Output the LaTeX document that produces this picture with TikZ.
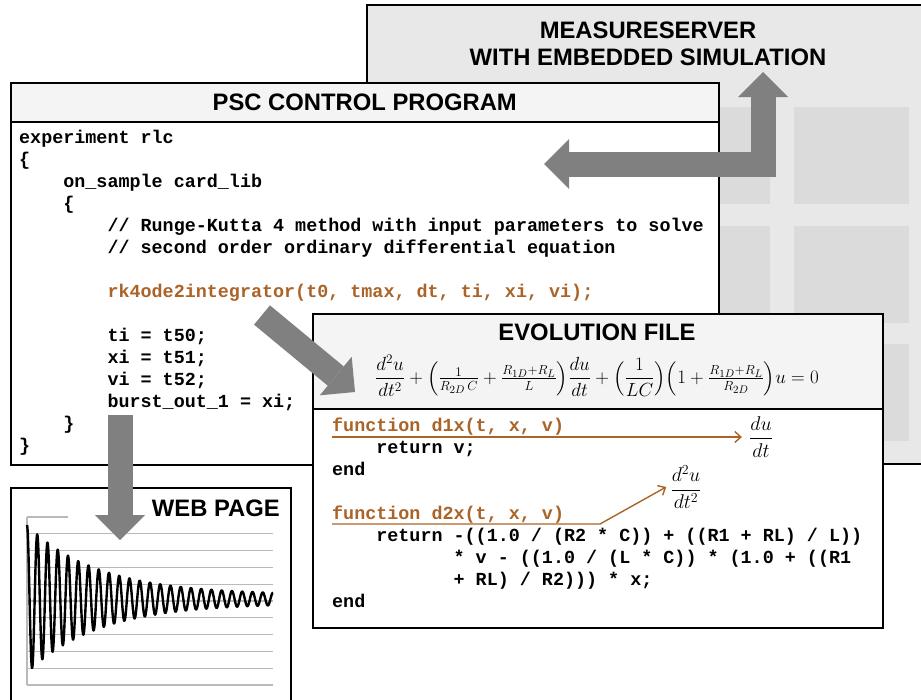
\documentclass[tikz,border=0pt]{standalone}
\usepackage{amsmath}
\usepackage{graphicx}
\usepackage{fontspec}
\newfontfamily\titlefont{Liberation Sans}
\newfontfamily\codefont{Liberation Mono}
\usetikzlibrary{arrows.meta}
\definecolor{codebrown}{RGB}{170,100,40}
\definecolor{arrowgray}{RGB}{128,128,128}
\definecolor{msgray}{RGB}{232,232,232}
\definecolor{tilegray}{RGB}{219,219,219}
\definecolor{headgray}{RGB}{244,244,244}
\definecolor{gridgray}{RGB}{185,185,185}

\begin{document}
\begin{tikzpicture}[x=1pt, y=-1pt,
      panel/.style={draw, line width=1.5pt, fill=white, anchor=north west, inner sep=0pt},
      head/.style={panel, fill=headgray},
      title/.style={font={\titlefont\bfseries\fontsize{23.8}{27}\selectfont}, align=center, inner sep=0pt},
      code/.style={anchor=north west, inner sep=0pt, align=left,
                   font={\codefont\bfseries\fontsize{18.4}{22}\selectfont}},
      frac/.style={font=\fontsize{17.28}{22}\selectfont, inner sep=1pt},
      blockarr/.style={draw=arrowgray, line width=25pt,
                       -{Triangle[length=25pt, width=50pt, line width'=0pt]}},
      fnarr/.style={draw=codebrown, line width=1.4pt, -{Straight Barb[length=6pt, width=11pt]}}
    ]
      \useasboundingbox (0,0) rectangle (921,699);
      \clip (0,0) rectangle (921,699);

      \node[panel, fill=msgray, minimum width=570pt, minimum height=459pt] (ms) at (366,4) {};
      \foreach \cx in {655,794}
        \foreach \cy in {107,226,344}
          \fill[tilegray] (\cx,\cy) rectangle ++(115,97);
      \node[title] (ms-title) at (648,44) {MEASURESERVER\\WITH EMBEDDED SIMULATION};

      \node[panel, minimum width=708pt, minimum height=382pt] (psc) at (10,82) {};
      \node[head, minimum width=708pt, minimum height=39pt] (psc-head) at (10,82) {};
      \node[title] at (psc-head.center) {PSC CONTROL PROGRAM};
      \node[code] (psc-code) at (19,130) {experiment rlc\\
\{\\
~~~~on\_sample card\_lib\\
~~~~\{\\
~~~~~~~~// Runge-Kutta 4 method with input parameters to solve\\
~~~~~~~~// second order ordinary differential equation\\[22pt]
~~~~~~~~\textcolor{codebrown}{rk4ode2integrator(t0, tmax, dt, ti, xi, vi);}\\[22pt]
~~~~~~~~ti = t50;\\
~~~~~~~~xi = t51;\\
~~~~~~~~vi = t52;\\
~~~~~~~~burst\_out\_1 = xi;\\
~~~~\}\\
\}};

      \coordinate (ms-in) at (763,72);
      \coordinate (psc-in) at (544,164);
      \draw[blockarr, {Triangle[length=25pt, width=50pt, line width'=0pt]}-{Triangle[length=25pt, width=50pt, line width'=0pt]}]
        (psc-in) -| (ms-in);

      \node[panel, minimum width=280pt, minimum height=215pt] (web) at (10,487) {};
      \draw[gridgray, line width=1.3pt] (27,517) -- (68,517);
      \foreach \k in {1,...,10}
        \draw[gridgray, line width=1.3pt] (27,517+16.8*\k) -- (273,517+16.8*\k);
      \draw[gridgray, line width=1.3pt] (27,517) -- (27,685);
      \draw[line width=2.4pt, line join=round] plot[domain=0:246, samples=700, smooth]
        ({27+\x}, {599-(70*exp(-0.014*\x)+4)*cos(35.122*\x)});
      \node[title, anchor=east] (web-title) at (280,508) {WEB PAGE};

      \coordinate (psc-out) at (120,415);
      \coordinate (web-in) at (120,540);
      \draw[blockarr] (psc-out) -- (web-in);

      \node[panel, minimum width=570pt, minimum height=314pt] (evo) at (312,313) {};
      \node[head, minimum width=570pt, minimum height=95pt] (evo-head) at (312,313) {};
      \node[title] (evo-title) at (597,332) {EVOLUTION FILE};
      \node[font=\fontsize{17.28}{22}\selectfont, inner sep=0pt] (evo-eq) at (597,376)
        {\scalebox{1.1}{$\displaystyle \frac{d^2u}{dt^2}+\Bigl(\tfrac{1}{R_{2D}\,C}+\tfrac{R_{1D}+R_L}{L}\Bigr)\frac{du}{dt}
          +\Bigl(\frac{1}{LC}\Bigr)\Bigl(1+\tfrac{R_{1D}+R_L}{R_{2D}}\Bigr)u=0$}};
      \node[code] (evo-code) at (332,418) {\textcolor{codebrown}{function d1x(t, x, v)}\\
~~~~return v;\\
end\\[22pt]
\textcolor{codebrown}{function d2x(t, x, v)}\\
~~~~return -((1.0 / (R2 * C)) + ((R1 + RL) / L))\\
~~~~~~~~~~~* v - ((1.0 / (L * C)) * (1.0 + ((R1\\
~~~~~~~~~~~+ RL) / R2))) * x;\\
end};

      \node[frac] (dudt) at (761,437) {\scalebox{1.15}{$\dfrac{du}{dt}$}};
      \node[frac] (d2udt2) at (686,487) {\scalebox{1.15}{$\dfrac{d^2u}{dt^2}$}};
      \coordinate (d1x) at (332,437);
      \coordinate (d2x) at (332,524);
      \draw[fnarr] (d1x) -- ([xshift=-6pt]dudt.west);
      \draw[fnarr] (d2x) -- ++(268,0) -- ([xshift=-3pt]d2udt2.west);

      \coordinate (psc-tail) at (262,315);
      \coordinate (evo-in) at (355,392);
      \draw[blockarr] (psc-tail) -- (evo-in);
    \end{tikzpicture}
\end{document}
